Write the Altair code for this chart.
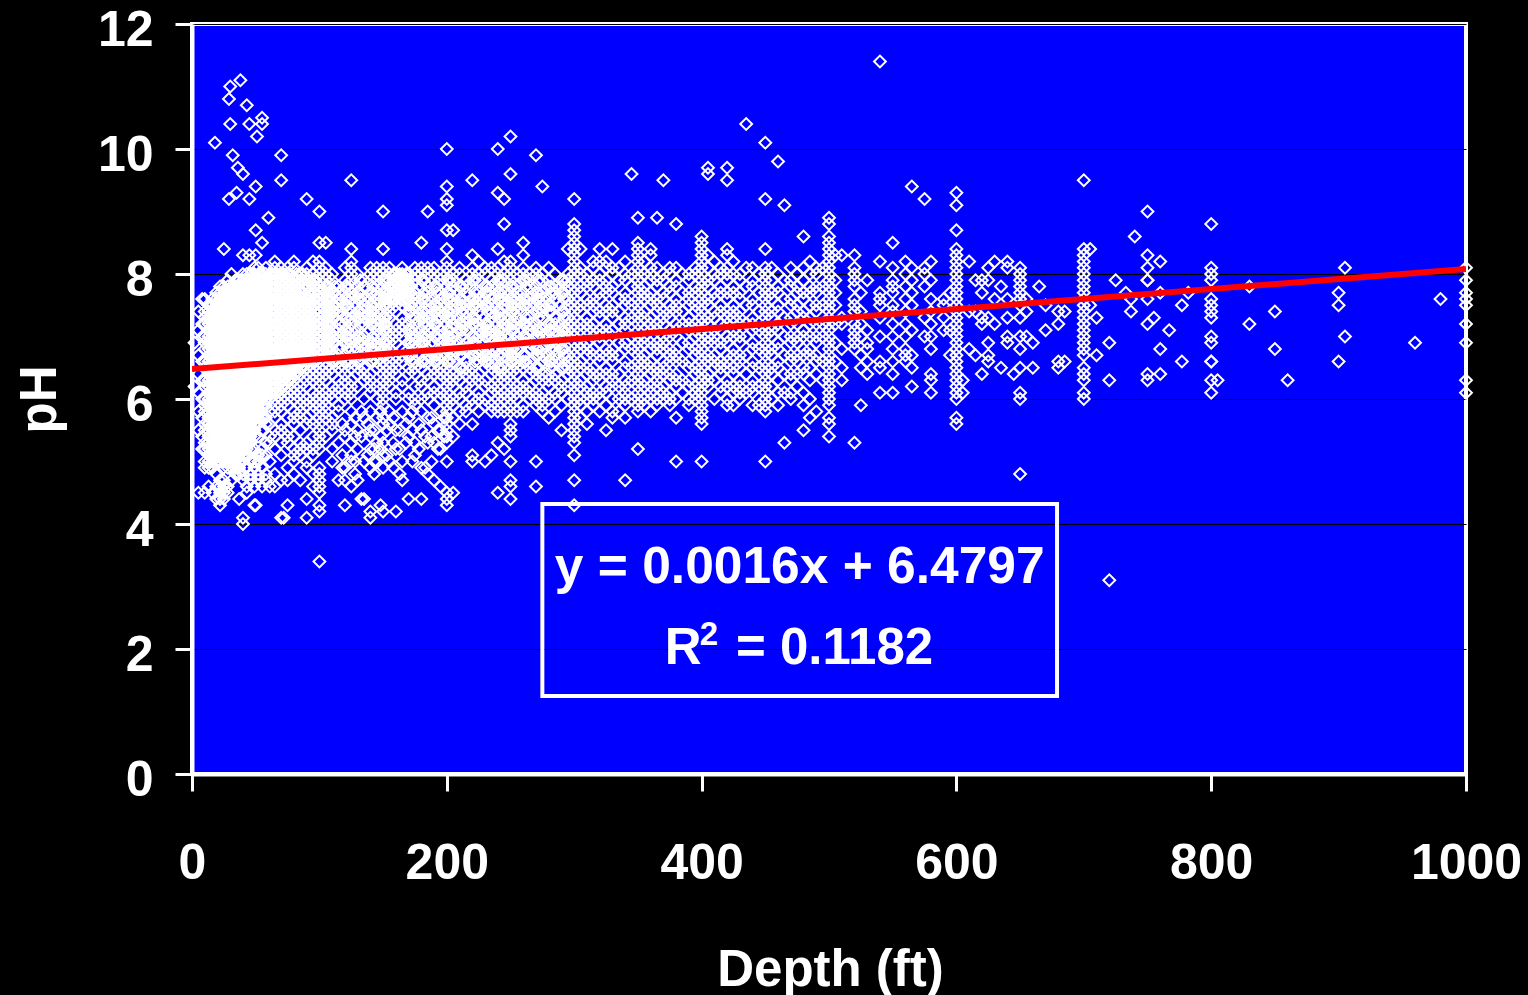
import altair as alt
import pandas as pd

# (depth ft, pH x 10 readings)
near_surface = [
(2,"69 62"),(5,"74 71 67 64 61 58 55 45"),(8,"76 72 70 66 63 60 57 54 52"),
(10,"76 74 73 72 70 69 68 66 65 63 62 60 59 58 56 55 53 52 50 49 45"),
(13,"75 74 73 72 71 70 69 68 67 66 65 64 63 62 61 60 59 58 57 56 55 54 53 52 51 50 49 46"),
(16,"76 75 74 73 72 71 70 69 68 67 66 65 64 63 62 61 60 59 58 57 56 55 54 53 52 51 50 49 45"),
(19,"77 76 75 74 73 72 71 70 69 68 67 66 65 64 63 62 61 60 59 58 57 56 55 54 53 52 51 50 48 46 44"),
(22,"78 77 76 75 74 73 72 71 70 69 68 67 66 65 64 63 62 61 60 59 58 57 56 55 54 53 52 51 50 47 46 45 44 43"),
(25,"84 78 77 76 75 74 73 72 71 70 69 68 67 66 65 64 63 62 61 60 59 58 57 56 55 54 53 52 51 50 49 47 46 45 44"),
(28,"79 78 77 76 75 74 73 72 71 70 69 68 67 66 65 64 63 62 61 60 59 58 57 56 55 54 53 52 51 50 49 46 45"),
(31,"80 78 77 76 75 74 73 72 71 70 69 68 67 66 65 64 63 62 61 60 59 58 57 56 55 54 53 52 51 50 49 47"),
(34,"79 78 77 76 75 74 73 72 71 70 69 68 67 66 65 64 63 62 61 60 59 58 57 56 55 54 53 52 51 50 49 48"),
(37,"79 78 77 76 75 74 73 72 71 70 69 68 67 66 65 64 63 62 61 60 59 58 57 56 55 54 53 52 51 50 49 48 44"),
(40,"80 79 78 77 76 75 74 73 72 71 70 69 68 67 66 65 64 63 62 61 60 59 58 57 56 55 54 53 52 51 50 48 47 41 40"),
(43,"80 79 78 77 76 75 74 73 72 71 70 69 68 67 66 65 64 63 62 61 60 59 58 57 56 55 54 53 52 51 49 46 45"),
(46,"80 79 78 77 76 75 74 73 72 71 70 69 68 67 66 65 64 63 62 61 60 59 58 57 56 55 54 53 52 50 48 47"),
(49,"81 80 79 78 77 76 75 74 73 72 71 70 69 68 67 66 65 64 63 62 61 60 59 58 57 56 55 54 52 50 49 46 43"),
(52,"81 80 79 78 77 76 75 74 73 72 71 70 69 68 67 66 65 64 63 62 61 60 59 58 57 56 54 51 50 48 47"),
(55,"80 79 78 77 76 75 74 73 72 71 70 69 68 67 66 65 64 63 62 61 60 59 58 57 55 52 51 49 46"),
(58,"81 80 79 78 77 76 75 74 73 72 71 70 69 68 67 66 65 64 63 62 61 60 59 57 56 53 51 48 47"),
(61,"80 79 78 77 76 75 74 73 72 71 70 69 68 67 66 65 64 63 62 61 60 58 56 54 53 50 46"),
]

shallow = [
(65,"82 81 80 79 78 77 76 75 74 73 72 71 70 69 68 67 66 65 64 63 62 61 60 59 58 57 55 54 52 48 46"),
(70,"81 80 79 78 77 76 75 74 73 72 71 70 69 68 67 66 65 64 63 62 61 60 59 58 56 55 53 51 47 41"),
(75,"81 80 79 78 77 76 75 74 73 72 71 70 69 68 67 66 65 64 63 62 61 60 59 57 55 54 53 49 47 43"),
(80,"82 81 79 78 77 76 75 74 73 72 71 70 69 68 67 66 65 64 63 62 61 60 58 57 56 54 52 51 50 48"),
(85,"80 79 77 76 75 74 73 72 71 70 69 68 67 66 65 64 62 61 60 59 58 57 55 53 52 51 47"),
(90,"81 80 79 78 76 75 74 73 72 71 70 69 68 67 66 65 64 63 62 60 59 57 56 53 52 50 49 44 41"),
(95,"82 80 79 78 77 76 75 73 72 71 70 69 68 67 66 65 64 63 61 60 59 58 56 54 52 51 48 46"),
(100,"85 82 81 80 79 78 77 76 75 74 73 72 71 70 69 68 67 66 65 64 63 62 61 60 59 58 57 56 55 54 53 52 49 48 47 46 45 43 42"),
(105,"85 81 80 79 78 77 76 75 74 73 72 71 70 69 68 67 66 65 64 63 61 60 59 58 57 54"),
(110,"80 79 77 76 75 74 73 72 70 69 68 67 66 65 64 62 61 60 57 56 55 52 50"),
(115,"78 77 76 75 74 72 71 70 68 67 66 65 63 62 61 59 58 53 47"),
(118,"56 51 49"),
(120,"81 79 78 77 76 75 73 72 71 70 69 67 66 65 64 63 61 60 55 54 49 47 43"),
(125,"84 82 81 80 79 78 77 76 74 73 72 71 69 68 67 66 65 63 62 61 60 58 56 53 51 50 46"),
(128,"57 54 50 48"),
(130,"80 78 77 76 75 74 73 71 70 69 68 66 65 64 62 55 52 47"),
(133,"58 54 44"),
(135,"79 78 76 75 74 73 72 70 69 68 67 65 64 63 60 57 50 44"),
(138,"56 51"),
(140,"81 80 79 77 76 75 74 73 72 71 69 68 67 66 64 63 62 61 58 55 54 52 49 42 41"),
(143,"55 52 50 48"),
(145,"81 80 79 78 77 76 75 74 72 71 70 69 67 66 65 62 60 57 53 50"),
(148,"58 54 52 43"),
(150,"84 81 80 79 78 77 76 75 74 73 72 71 70 69 68 67 66 65 64 63 62 61 60 59 57 56 53 51 49 42"),
(153,"55 51"),
(155,"81 80 79 78 77 76 75 74 73 71 70 69 68 66 65 64 63 62 58 56 50"),
(158,"80 79 78 77 76 57 53 49"),
(160,"80 79 78 77 76 75 74 72 71 70 69 67 66 65 64 61 60 55 52 42"),
(163,"80 79 78 77 76 55 52 48"),
(165,"81 80 79 78 77 76 75 73 72 71 70 68 67 66 63 62 58 50 47"),
(168,"80 79 78 77 76 56 53"),
(170,"80 79 78 77 76 75 74 72 71 69 68 67 65 64 61 60 57 54 44"),
(173,"58 55 50"),
(175,"81 80 79 77 76 75 73 72 71 70 69 68 66 65 64 62 60 59 53 51"),
(178,"56 52"),
(180,"85 81 80 79 78 76 75 74 73 71 70 69 67 66 65 63 62 60 58 55 49 44"),
(183,"54 49"),
(185,"81 80 78 77 76 74 73 72 71 70 68 67 66 64 63 61 60 57 53 48"),
(188,"57 54 50"),
(190,"81 80 79 78 76 75 74 72 71 70 69 67 66 65 64 62 61 59 56 53 47"),
(193,"55 52"),
(195,"80 79 77 76 75 74 73 71 70 69 68 67 65 64 63 61 60 58 55 52 46"),
(198,"57 54"),
]

middle = [
(200,"84 82 81 80 79 78 77 76 75 74 73 72 71 70 69 68 67 66 65 64 63 62 61 60 59 58 57 56 55 54 53 50 45 44 43"),
(205,"80 79 78 76 75 74 73 72 70 69 68 67 66 64 63 62 60 59 57 54 45"),
(210,"81 80 78 77 76 75 73 72 71 69 68 67 65 64 63 61 60 58 56"),
(215,"79 78 77 75 74 73 72 71 69 68 66 65 64 62 61 59 58"),
(220,"83 81 80 79 78 76 75 74 73 72 70 69 68 67 65 64 63 62 60 59 56 51 50"),
(225,"82 80 79 77 76 75 74 72 71 70 68 67 66 64 63 61 60 58"),
(230,"81 80 78 77 76 75 73 72 71 70 69 67 66 65 63 62 60 59 50"),
(235,"81 79 78 76 75 74 73 71 70 69 67 66 65 64 62 61 59 58 51"),
(240,"84 81 80 79 78 77 76 75 74 73 72 71 70 69 68 67 66 65 64 63 62 61 60 59 58 53 45"),
(245,"82 80 79 77 76 75 73 72 71 69 68 67 65 64 63 61 60 58 52"),
(250,"82 81 80 79 78 77 76 75 74 73 72 71 70 69 68 67 66 65 64 63 62 61 60 59 58 56 55 54 50 47 46 44"),
(255,"80 78 77 76 74 73 72 70 69 68 66 65 64 62 61 60 58"),
(260,"85 83 81 80 79 77 76 75 74 72 71 70 69 67 66 65 63 62 61 59 58"),
(265,"80 79 78 76 75 73 72 71 69 68 66 65 64 62 61 60"),
(270,"81 80 78 77 76 75 74 72 71 70 68 67 65 64 63 61 60 59"),
(275,"80 79 77 76 75 74 73 71 70 68 67 66 64 63 61 60 58 59"),
(280,"81 79 78 76 75 74 72 71 70 69 67 66 64 63 62 60 57"),
(285,"80 78 77 76 73 72 71 69 68 67 66 64 63 61 60 58"),
(290,"79 78 77 75 74 72 71 70 69 68 66 65 63 62 61 59 55"),
(295,"84 80 79 78 76 75 73 72 71 70 67 66 65 64 62 60"),
(300,"88 87 86 85 84 83 82 81 80 79 78 77 76 75 74 73 72 71 70 69 68 67 66 65 64 63 62 61 60 59 58 57 56 55 54 53 51"),
(305,"84 81 80 78 77 75 74 72 71 69 68 66 65 63 62 60 59 57"),
(310,"80 79 78 76 75 73 72 71 69 68 67 65 64 62 61 60 58 56"),
(315,"82 81 79 78 76 75 74 72 71 70 68 67 65 64 63 61 60 59"),
(320,"84 82 80 79 77 76 74 73 71 70 69 67 66 64 63 61 60 58"),
(325,"82 81 79 78 77 75 74 72 71 70 68 67 65 64 62 61 59 55"),
(330,"84 81 80 78 77 75 74 73 71 70 68 67 66 64 63 62 60 58 57"),
(335,"81 79 76 74 72 69 67 64 62 60 58"),
(340,"82 80 79 77 76 75 73 72 71 69 68 66 65 63 62 61 60 59 57"),
(345,"80 78 75 73 70 68 65 63 60"),
(350,"85 84 83 82 81 80 79 78 77 76 75 74 73 72 71 70 69 68 67 66 65 64 63 62 61 60 59 58"),
(355,"82 80 78 77 76 74 73 71 70 69 67 66 65 63 62 60 59"),
(360,"84 83 81 80 79 77 76 75 73 72 71 69 68 66 65 64 62 61 60 58"),
(365,"81 79 78 76 75 74 72 71 69 68 67 65 64 63 62 60 59"),
(370,"80 79 77 76 74 73 72 70 69 68 66 65 64 62 61 60"),
(375,"81 80 78 77 75 74 73 71 70 68 67 66 64 63 61 60 59"),
(380,"81 79 78 76 75 74 72 71 70 68 67 66 64 63 62 60 57"),
(385,"80 77 74 72 69 66 63 61"),
(390,"80 79 77 76 75 73 72 71 69 68 66 65 63 62 60 59"),
(395,"81 80 78 77 75 74 72 71 70 68 67 65 64 62 61 60"),
(400,"86 85 84 83 82 81 80 79 78 77 76 75 74 73 72 71 70 69 68 67 66 65 64 63 62 61 60 59 58 57 56"),
(405,"83 81 79 78 76 75 73 72 70 69 67 66 64 63 62"),
(410,"82 80 79 77 76 74 73 71 70 69 67 66 65 63 60"),
(415,"81 80 78 77 75 74 72 71 69 68 66 65 64 62 61"),
(420,"84 83 81 80 79 77 76 74 73 72 70 69 67 66 65 63 62 60 59"),
(425,"82 80 78 77 75 74 73 71 70 68 67 65 64 62 61 59"),
(430,"80 79 77 76 74 73 72 70 69 67 66 65 63 62 61 60"),
(435,"81 78 75 72 70 67 64 61"),
(440,"81 79 78 76 75 73 72 71 69 68 66 65 63 62 61 59"),
(445,"80 77 74 71 68 65 62 59"),
(450,"84 81 80 79 78 77 76 75 74 73 72 71 70 69 68 67 66 65 64 63 62 61 60 59 58"),
(455,"81 79 77 76 74 73 71 70 68 67 65 64 62 60"),
(460,"80 78 77 75 74 72 71 69 68 66 65 63 61 59"),
(465,"79 76 73 70 67 64 61"),
(470,"81 79 78 76 75 73 72 70 69 67 66 64 63 61 60"),
(475,"80 78 77 75 74 72 70 69 67 66 64 62"),
(480,"81 79 77 76 74 73 71 70 68 67 65 64 61 59 55"),
(485,"82 80 78 77 75 73 72 70 68 67 65 63 60 57"),
(490,"81 80 78 77 75 74 72 70 69 67 66 64 58"),
(495,"81 78 75 72 70 66 63"),
(500,"89 88 86 85 84 83 82 81 80 79 78 77 76 75 74 73 72 71 70 69 68 67 66 65 64 63 62 61 60 59 57 56 54"),
]

# Offset readings that whiten the band around the trend line
dense_overlay = [
(63,"80 79 78 77 76 75 74 73 72 71 70 69 68 67 66 65 64 63 62 61"),
(67,"80 79 78 77 76 75 74 73 72 71 70 69 68 67 66 65 64 63 62 61"),
(72,"80 79 78 77 76 75 74 73 72 71 70 69 68 67 66 65 64 63 62"),
(77,"80 79 78 77 76 75 74 73 72 71 70 69 68 67 66 65 64 63"),
(82,"80 79 78 77 76 75 74 73 72 71 70 69 68 67 66 65 64"),
(87,"80 79 78 77 76 75 74 73 72 71 70 69 68 67 66 65"),
(92,"79 78 77 76 75 74 73 72 71 70 69 68 67 66"),
(97,"79 78 77 76 75 74 73 72 71 70 69 68 67 66"),
(107,"78 77 76 75 74 73 72 71 70 69 68 67"),(112,"78 77 75 74 73 71 70 69 67 66"),
(122,"78 76 75 74 73 71 70 69 68 66"),(132,"79 77 76 74 73 72 70 69 67 66"),
(142,"78 77 75 74 73 72 70 69 68 66"),(152,"79 77 76 75 73 72 71 69 68 67"),
(172,"78 77 75 74 73 71 70 69 67 66"),(182,"79 77 76 74 73 72 70 69 68 66"),
(192,"78 77 75 74 73 72 70 68 67 66"),(202,"79 77 76 74 73 71 70 69 68 66"),
(212,"78 76 75 74 72 71 70 68 67 65"),(222,"79 77 76 75 73 72 70 69 67 66"),
(232,"78 77 75 74 72 71 70 68 67 66"),(242,"79 77 76 74 73 71 70 69 67 65"),
(252,"78 76 75 74 72 71 69 68 67 66"),(262,"79 78 76 75 73 72 70 69 67 66"),
(272,"79 77 76 74 73 71 70 68 67 65"),(282,"78 77 75 74 72 71 69 68 66 65"),
(292,"79 77 76 74 73 71 70 68 67 65"),
]

deep = [
(505,"83 79 77 75 72 69 66"),(510,"83 73 72 68 65 63"),
(520,"83 81 80 79 78 76 75 74 72 71 70 69 68 53"),(525,"77 74 72 70 67 65 59"),
(530,"79 71 69 68 66 64"),(540,"82 77 76 75 73 70 66 65 61"),
(550,"85 81 79 78 77 75 74 72 70 68 66 64 61"),(560,"82 80 78 76 74 72 70 68 67 66"),
(565,"94 81 79 77 75 71 67 65 62"),(575,"92 81 80 78 73 70"),
(580,"82 79 76 74 72 70 68 64 63 61"),(590,"76 75 73 71"),(595,"77 71 67"),
(600,"93 91 87 84 83 82 81 80 79 78 77 76 75 74 73 72 71 70 69 68 67 66 65 64 63 62 61 60 57 56"),
(605,"63 61"),(610,"82 74 68"),(615,"79 74 67"),(620,"79 77 73 64 72"),
(625,"81 79 73 69 67 66"),(630,"82 76 72"),(635,"78 65"),(640,"82 81 76 73 70 69"),
(645,"64"),(650,"81 80 79 78 77 76 75 73 70 68 65 61 60 48"),(655,"76 74 70"),
(660,"69 65"),(665,"78"),(670,"75 71"),(680,"74 72 66 65"),(685,"74 66"),
(700,"95 84 83 82 81 80 79 78 77 76 75 74 73 72 71 70 69 68 67 65 64 63 61 60"),
(705,"84 75"),(710,"73 67"),(720,"69 63 31"),(725,"79"),(733,"77"),(737,"76 74"),
(740,"86"),(750,"90 83 81 79 79 76 72 64 63"),(755,"73"),(760,"82 77 68 64"),
(767,"71"),(777,"75 66"),(782,"77"),
(800,"88 81 80 79 76 75 74 73 70 69 66 66 63 61"),(805,"63"),(830,"78 72"),
(850,"74 68"),(860,"63"),(900,"77 75 66"),(905,"81 70"),(960,"69"),(980,"76"),
(1000,"81 79 77 76 75 72 69 63 61"),
]

outliers = [
(18,"101"),(29,"108 92"),(30,"110 104"),(32,"99"),(35,"93"),(36,"97"),(38,"111"),
(40,"96 83"),(43,"107"),(45,"104 92 83"),(50,"94 87 83 43"),(51,"102"),(55,"105 104 85"),
(60,"89"),(70,"99 95"),(72,"41"),(90,"92"),(100,"90 34"),(125,"95"),(150,"90"),
(185,"90"),(200,"100 94 92 91 87"),(205,"87"),(220,"95"),(240,"100 93"),
(245,"92 88"),(250,"102 96"),(270,"99 50 46"),(275,"94"),(300,"92 47 43"),
(340,"47"),(345,"96"),(350,"89 52"),(365,"89"),(370,"95"),(380,"88 50"),
(400,"50"),(405,"97 96"),(420,"97 95"),(435,"104"),(450,"101 92 50"),(460,"98"),
(465,"91 53"),(480,"86"),(540,"114"),
]

depth_values, ph_values = [], []
for band in (near_surface, shallow, middle, dense_overlay, deep, outliers):
    for depth, readings in band:
        for reading in readings.split():
            depth_values.append(depth)
            ph_values.append(int(reading) / 10)

trend_depth = [0, 1000]
trend_ph = [6.4797, 8.0797]

box_depth = [275]
box_depth_end = [679]
box_ph = [4.32]
box_ph_end = [1.25]

FONT = "Liberation Sans"

x_scale = alt.Scale(domain=[0, 1000], nice=False, zero=False)
y_scale = alt.Scale(domain=[0, 12], nice=False, zero=False)

x_enc = alt.X(
    "d:Q", scale=x_scale,
    axis=alt.Axis(
        title="Depth (ft)", values=[0, 200, 400, 600, 800, 1000], format="d", grid=False,
        domainColor="white", domainWidth=4, tickColor="white", tickWidth=3, tickSize=17,
        labelColor="white", labelFont=FONT, labelFontWeight="bold", labelFontSize=50,
        labelPadding=47, labelFlush=False, labelOverlap=False,
        titleColor="white", titleFont=FONT, titleFontWeight="bold", titleFontSize=51,
        titleX=638, titleY=211, titleBaseline="alphabetic", titleAnchor="middle", titleAlign="center",
    ),
)
y_enc = alt.Y(
    "p:Q", scale=y_scale,
    axis=alt.Axis(
        title="pH", values=[0, 2, 4, 6, 8, 10, 12], format="d", grid=True,
        gridColor="black", gridWidth=1,
        domainColor="white", domainWidth=4, tickColor="white", tickWidth=3, tickSize=17,
        labelColor="white", labelFont=FONT, labelFontWeight="bold", labelFontSize=50,
        labelPadding=22, labelOffset=6, labelOverlap=False,
        titleColor="white", titleFont=FONT, titleFontWeight="bold", titleFontSize=51,
        titleX=-137, titleY=375, titleAngle=270, titleBaseline="alphabetic", titleAlign="center",
    ),
)

points = alt.Chart(pd.DataFrame({"d": depth_values, "p": ph_values})).mark_point(
    shape="diamond", filled=False, stroke="white", strokeWidth=2, size=140, opacity=1
).encode(x=x_enc, y=y_enc)

trend = alt.Chart(pd.DataFrame({"d": trend_depth, "p": trend_ph})).mark_line(
    color="#ff0000", strokeWidth=6, clip=True
).encode(x=alt.X("d:Q", scale=x_scale), y=alt.Y("p:Q", scale=y_scale))

box = alt.Chart(pd.DataFrame({"d": box_depth, "d2": box_depth_end, "p": box_ph, "p2": box_ph_end})).mark_rect(
    fillOpacity=0, stroke="white", strokeWidth=4
).encode(
    x=alt.X("d:Q", scale=x_scale), x2="d2:Q",
    y=alt.Y("p:Q", scale=y_scale), y2="p2:Q",
)

def label(text, depth, ph, size, align):
    return alt.Chart(pd.DataFrame({"d": [depth], "p": [ph], "t": [text]})).mark_text(
        font=FONT, fontWeight="bold", fontSize=size, color="white", align=align, baseline="alphabetic"
    ).encode(x=alt.X("d:Q", scale=x_scale), y=alt.Y("p:Q", scale=y_scale), text="t:N")

chart = alt.layer(
    points, trend, box,
    label("y = 0.0016x + 6.4797", 477, 3.05, 51.5, "center"),
    label("R", 371, 1.76, 51, "left"),
    label("2", 398.5, 2.06, 33, "left"),
    label("= 0.1182", 427, 1.76, 51, "left"),
).properties(
    width=1274, height=750,
    background="black",
    padding={"left": 192, "top": 24, "right": 62, "bottom": 221},
    autosize=alt.AutoSizeParams(type="none"),
).configure_view(fill="#0000ff", stroke="white", strokeWidth=4)

chart.save("out.html", embed_options={"renderer": "svg", "actions": False, "defaultStyle": "body{background:#000;margin:0;overflow:hidden}"})
